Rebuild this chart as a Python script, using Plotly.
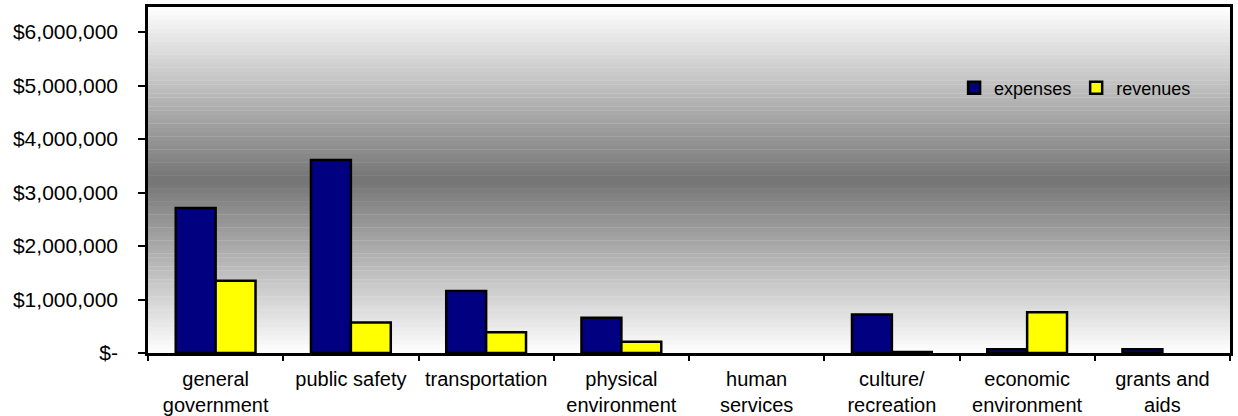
import plotly.graph_objects as go

categories = ["general<br>government", "public safety", "transportation",
              "physical<br>environment", "human<br>services", "culture/<br>recreation",
              "economic<br>environment", "grants and<br>aids"]
expenses = [2710000, 3610000, 1160000, 660000, 0, 720000, 70000, 70000]
revenues = [1350000, 570000, 390000, 210000, 0, 20000, 760000, 0]
y_tickvals = [0, 1000000, 2000000, 3000000, 4000000, 5000000, 6000000]
y_ticktext = ["$-", "$1,000,000", "$2,000,000", "$3,000,000", "$4,000,000",
              "$5,000,000", "$6,000,000"]

FONT = "Liberation Sans, Arial, sans-serif"


def outline_widths(values):
    return [2.5 if v > 0 else 0 for v in values]


fig = go.Figure()
fig.add_trace(go.Bar(name="expenses", x=categories, y=expenses,
                     marker=dict(color="#000080",
                                 line=dict(color="black", width=outline_widths(expenses)))))
fig.add_trace(go.Bar(name="revenues", x=categories, y=revenues,
                     marker=dict(color="#FFFF00",
                                 line=dict(color="black", width=outline_widths(revenues)))))

# vertical gradient background: white at top/bottom, grey in the middle
shapes = []
N = 80
for i in range(N):
    p0 = i / N
    p1 = (i + 1) / N
    pc = (p0 + p1) / 2
    t = abs(pc - 0.5) / 0.5
    g = int(round(116 + 139 * t))
    shapes.append(dict(type="rect", xref="paper", yref="paper", x0=0, x1=1,
                       y0=p0, y1=p1 + 0.001, layer="below", line=dict(width=0),
                       fillcolor=f"rgb({g},{g},{g})"))

fig.update_layout(
    width=1238, height=416,
    margin=dict(l=148, r=8, t=7, b=63),
    paper_bgcolor="white", plot_bgcolor="white",
    barmode="group", bargap=0.41, bargroupgap=0,
    shapes=shapes,
    font=dict(family=FONT, color="black", size=20),
    showlegend=True,
    legend=dict(orientation="h", x=0.745, xanchor="left", y=0.766, yanchor="middle",
                bgcolor="rgba(0,0,0,0)", font=dict(family=FONT, size=18, color="black"),
                itemwidth=30, traceorder="normal"),
)
fig.update_xaxes(showline=True, linecolor="black", linewidth=2.5, mirror=True,
                 ticks="outside", tickson="boundaries", ticklen=5, tickwidth=2,
                 tickcolor="black", showgrid=False, automargin=False,
                 tickfont=dict(family=FONT, size=20, color="black"),
                 ticklabelstandoff=6)
fig.update_yaxes(range=[0, 6470000], showline=True, linecolor="black", linewidth=2.5,
                 mirror=True, ticks="outside", ticklen=7, tickwidth=2, tickcolor="black",
                 showgrid=False, zeroline=False, automargin=False,
                 tickvals=y_tickvals, ticktext=y_ticktext,
                 tickfont=dict(family=FONT, size=21, color="black"),
                 ticklabelstandoff=16)

fig.write_html("out.html",
               config={"displayModeBar": False},
               post_script="document.body.style.margin='0px';"
                           "document.body.style.overflow='hidden';")
